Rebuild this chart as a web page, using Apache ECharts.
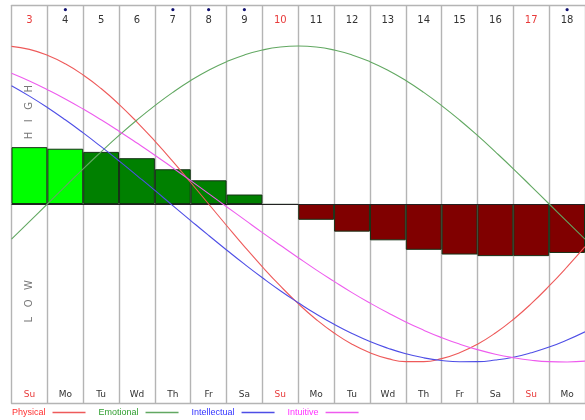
<!DOCTYPE html>
<html><head><meta charset="utf-8">
<script src="https://cdn.jsdelivr.net/npm/echarts@6/dist/echarts.min.js"></script>
<style>html,body{margin:0;padding:0;background:#fff}#c{width:585px;height:420px}</style>
</head><body><div id="c"></div>
<script>
const days = ['3','4','5','6','7','8','9','10','11','12','13','14','15','16','17','18'];
const weekdays = ['Su','Mo','Tu','Wd','Th','Fr','Sa','Su','Mo','Tu','Wd','Th','Fr','Sa','Su','Mo'];
const markedDays = ['4','7','8','9','18'];
const barValues = [0.36,0.35,0.33,0.29,0.22,0.15,0.06,-0.005,-0.10,-0.175,-0.23,-0.29,-0.32,-0.33,-0.33,-0.31];
const barKinds = ['light','light','dark','dark','dark','dark','dark','neg','neg','neg','neg','neg','neg','neg','neg','neg'];
const samplePos = [0,0.5,1,1.5,2,2.5,3,3.5,4,4.5,5,5.5,6,6.5,7,7.5,8,8.5,9,9.5,10,10.5,11,11.5,12,12.5,13,13.5,14,14.5,15,15.5,16];
const physical = [0.998,0.979,0.942,0.888,0.817,0.731,0.631,0.519,0.398,0.270,0.136,0.000,-0.136,-0.270,-0.398,-0.519,-0.631,-0.731,-0.817,-0.888,-0.942,-0.979,-0.998,-0.998,-0.979,-0.942,-0.888,-0.817,-0.731,-0.631,-0.519,-0.398,-0.270];
const emotional = [-0.223,-0.112,0,0.112,0.223,0.330,0.434,0.532,0.623,0.707,0.782,0.847,0.901,0.944,0.975,0.994,1.000,0.994,0.975,0.944,0.901,0.847,0.782,0.707,0.623,0.532,0.434,0.330,0.223,0.112,0,-0.112,-0.223];
const intellectual = [0.749,0.683,0.611,0.533,0.450,0.363,0.273,0.180,0.086,-0.010,-0.105,-0.199,-0.291,-0.381,-0.467,-0.549,-0.625,-0.697,-0.762,-0.820,-0.871,-0.913,-0.948,-0.974,-0.991,-0.999,-0.998,-0.988,-0.970,-0.942,-0.906,-0.861,-0.809];
const intuitive = [0.828,0.779,0.724,0.665,0.601,0.533,0.461,0.386,0.309,0.229,0.148,0.066,-0.017,-0.099,-0.181,-0.261,-0.340,-0.417,-0.490,-0.561,-0.627,-0.689,-0.747,-0.799,-0.846,-0.887,-0.922,-0.951,-0.973,-0.989,-0.998,-1.000,-0.995];
const seriesNames = ['Physical','Emotional','Intellectual','Intuitive'];
const zoneLabels = ['H   I   G   H', 'L   O   W'];

const lineColors = ['#ee5a5a','#62a862','#4e4ee6','#ee5cee'];
const legendColors = ['#ff3030','#2e9e2e','#3333ff','#ff33ff'];
const kindColor = {light:'#00ff00', dark:'#008000', neg:'#800000'};
const RED = '#e83a3a', TXT = '#333';
const FONT = 'DejaVu Sans';

const chart = echarts.init(document.getElementById('c'));
const curves = [physical, emotional, intellectual, intuitive];
const lineSeries = curves.map((arr, i) => ({
  name: seriesNames[i], type: 'line', xAxisIndex: 0, yAxisIndex: 0,
  data: samplePos.map((p, j) => [p, arr[j]]),
  smooth: true, showSymbol: false, symbol: 'none',
  lineStyle: {color: lineColors[i], width: 1.1}, itemStyle: {color: lineColors[i]},
  z: 5
}));

chart.setOption({
  animation: false,
  textStyle: {fontFamily: FONT},
  grid: {left: 11.5, top: 5, width: 576, height: 398},
  legend: {
    left: 7, top: 403, align: 'right', icon: 'rect', itemWidth: 33, itemHeight: 1.5, itemGap: 13,
    textStyle: {fontFamily: 'Liberation Sans', fontSize: 9, padding: [0, 2, 0, 0]},
    data: seriesNames.map((n, i) => ({name: n, textStyle: {color: legendColors[i]}}))
  },
  xAxis: [
    {type: 'value', min: 0, max: 16, interval: 1, show: true,
     axisLine: {show: false}, axisTick: {show: false}, axisLabel: {show: false},
     splitLine: {show: true, lineStyle: {color: '#b4b4b4', width: 1.4}}},
    {type: 'category', position: 'top', data: days, boundaryGap: true,
     axisLine: {show: true, lineStyle: {color: '#b4b4b4', width: 1.4}}, axisTick: {show: false}, splitLine: {show: false},
     axisLabel: {inside: true, interval: 0, margin: 2,
       formatter: (v, idx) => (markedDays.includes(v) ? '{dot|•}' : '{dot| }') + '\n' + (weekdays[idx] === 'Su' ? '{r|' + v + '}' : '{n|' + v + '}'),
       rich: {dot: {color: '#101070', fontSize: 9, lineHeight: 7, fontWeight: 'bold'},
              n: {color: TXT, fontSize: 10, lineHeight: 12, fontFamily: FONT},
              r: {color: RED, fontSize: 10, lineHeight: 12, fontFamily: FONT}}}},
    {type: 'category', position: 'bottom', data: weekdays, boundaryGap: true,
     axisLine: {show: true, lineStyle: {color: '#b4b4b4', width: 1.4}}, axisTick: {show: false}, splitLine: {show: false},
     axisLabel: {inside: true, interval: 0, margin: 4,
       formatter: v => v === 'Su' ? '{r|' + v + '}' : '{n|' + v + '}',
       rich: {n: {color: TXT, fontSize: 9, fontFamily: FONT}, r: {color: RED, fontSize: 9, fontFamily: FONT}}}}
  ],
  yAxis: [{type: 'value', min: -1.26, max: 1.26, show: false, splitLine: {show: false}}],
  graphic: [
    {type: 'text', left: 24, top: 85, rotation: Math.PI / 2,
     style: {text: zoneLabels[0], fill: '#777', font: '10px "DejaVu Sans"'}},
    {type: 'text', left: 24, top: 280, rotation: Math.PI / 2,
     style: {text: zoneLabels[1], fill: '#777', font: '10px "DejaVu Sans"'}}
  ],
  series: [
    {type: 'bar', xAxisIndex: 1, yAxisIndex: 0, barWidth: '100%', barGap: '0%', barCategoryGap: '0%',
     data: barValues.map((v, i) => ({value: v, itemStyle: {color: kindColor[barKinds[i]]}})),
     itemStyle: {borderColor: '#143014', borderWidth: 1},
     z: 2,
     markLine: {silent: true, symbol: 'none', label: {show: false},
       lineStyle: {color: '#222', width: 1, type: 'solid'}, data: [{yAxis: 0}]}},
    ...lineSeries
  ]
});
</script></body></html>
